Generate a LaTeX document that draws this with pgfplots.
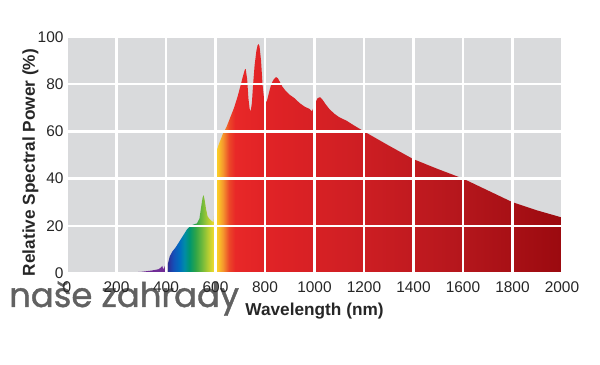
\documentclass[border=0pt]{standalone}
\usepackage{pgfplots}
\pgfplotsset{compat=1.18}
\usepackage{fontspec}
\setmainfont{Liberation Sans}
\newfontfamily\wmfont{Poppins}[FakeBold=1.2]
\definecolor{bggray}{RGB}{217,218,220}
\definecolor{uvpurple}{RGB}{112,44,150}
\definecolor{s1}{RGB}{45,45,150}
\definecolor{s2}{RGB}{20,80,185}
\definecolor{s3}{RGB}{0,110,190}
\definecolor{s4}{RGB}{0,140,165}
\definecolor{s5}{RGB}{0,150,110}
\definecolor{s6}{RGB}{50,165,70}
\definecolor{s7}{RGB}{110,185,60}
\definecolor{s8}{RGB}{180,205,50}
\definecolor{s9}{RGB}{245,220,45}
\definecolor{s10}{RGB}{250,200,40}
\definecolor{s11}{RGB}{245,150,45}
\definecolor{s12}{RGB}{235,70,40}
\definecolor{s13}{RGB}{232,40,40}
\definecolor{s14}{RGB}{225,35,38}
\definecolor{s15}{RGB}{205,30,35}
\definecolor{s16}{RGB}{180,22,28}
\definecolor{s17}{RGB}{155,10,15}
\pgfdeclarehorizontalshading{spectrum}{100bp}{%
color(0bp)=(s1); color(25bp)=(s1); color(25.69bp)=(s2); color(26.48bp)=(s3);
color(27.10bp)=(s4); color(27.73bp)=(s5); color(28.52bp)=(s6); color(29.30bp)=(s7);
color(30.09bp)=(s8); color(30.87bp)=(s9); color(31.34bp)=(s10); color(31.97bp)=(s11);
color(32.76bp)=(s12); color(33.54bp)=(s13); color(37.31bp)=(s14); color(49.87bp)=(s15);
color(62.44bp)=(s16); color(75bp)=(s17); color(100bp)=(s17)}
\begin{document}
\begin{tikzpicture}
\useasboundingbox (0,0) rectangle (600bp,365bp);
\node[anchor=base west, text=black!62, font=\wmfont\fontsize{34}{40}\selectfont, inner sep=0pt] at (9bp,58bp) {naše zahrady};
\begin{axis}[
  at={(67bp,92bp)}, anchor=south west,
  width=495bp, height=236bp, scale only axis,
  xmin=0, xmax=2000, ymin=0, ymax=100,
  xtick={0,200,...,2000}, ytick={0,20,...,100},
  grid=major, major grid style={white, line width=2.4bp},
  axis background/.style={fill=bggray},
  axis line style={draw=none},
  major tick length=0pt,
  axis on top,
  tick label style={font=\fontsize{15.5}{18}\selectfont, text=black!85},
  xticklabel style={yshift=-5bp},
  /pgf/number format/assume math mode=true,
  /pgf/number format/1000 sep={},
  xlabel={Wavelength (nm)},
  ylabel={Relative Spectral Power (\%)},
  label style={font=\bfseries\fontsize{17.3}{20}\selectfont, text=black!85},
  xlabel style={at={(axis description cs:0.5,-0.163)}, anchor=center},
  ylabel style={at={(axis description cs:-0.074,0.468)}, anchor=center},
]
\addplot[draw=none, fill=uvpurple] coordinates {
(200,0) (250,0.2) (300,0.5) (340,1) (370,1.6) (380,2.4) (385,3) (388,1.8) (392,2) (395,3) (397,3) (397,0)
};
\addplot[draw=none, shading=spectrum] coordinates {
(408,0) (408,4) (415,7) (425,9) (440,11) (455,13.5) (470,16) (485,18.5) (500,20) (510,20.5)
(525,21) (535,23) (542,28) (548,32) (552,33) (556,31) (562,27) (568,24) (575,23) (585,22)
(592,21.5) (596,27) (599,30) (600,50) (605,52) (615,55) (630,59) (645,62) (660,66) (675,70)
(690,75) (700,79) (710,83) (718,86) (722,86.5) (728,82) (733,74) (738,69.5) (742,68.5) (747,72)
(752,80) (758,88) (765,94) (770,96.5) (774,97) (778,96) (784,90) (790,80) (796,74) (802,72)
(808,73) (815,76) (825,80) (835,82) (845,83) (852,82.5) (860,81) (870,79) (885,77) (900,75.5)
(920,74) (940,72) (960,70.5) (980,69.5) (990,68.5) (995,70) (1005,72.5) (1012,74) (1022,74.5)
(1032,73.5) (1045,71.5) (1060,69.5) (1080,67.5) (1100,66) (1130,64.5) (1160,62.5) (1200,60)
(1300,54) (1400,48.2) (1500,44) (1600,40) (1700,35) (1800,30) (1900,26.5) (2000,23.5) (2000,0)
};
\end{axis}
\end{tikzpicture}
\end{document}
